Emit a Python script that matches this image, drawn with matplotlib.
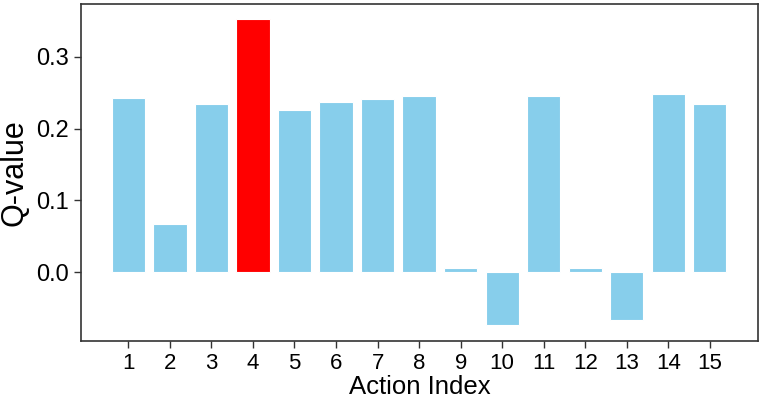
import matplotlib
matplotlib.use("Agg")
import matplotlib.pyplot as plt

actions = list(range(1, 16))
q_values = [0.2425, 0.0674, 0.2345, 0.3525, 0.2265, 0.2368, 0.2410, 0.2458,
            0.0056, -0.0739, 0.2458, 0.0051, -0.0670, 0.2480, 0.2345]
best_action = 4

plt.rcParams['font.family'] = ['Liberation Sans', 'DejaVu Sans']

fig = plt.figure(figsize=(7.62, 4.0), dpi=100)
ax = fig.add_axes([0.1063, 0.1475, 0.8885, 0.8415])

colors = ['red' if a == best_action else 'skyblue' for a in actions]
ax.bar(actions, q_values, width=0.8, color=colors, edgecolor='white', linewidth=0.8)

ax.set_xlim(-0.14, 16.16)
ax.set_ylim(-0.096, 0.373)
ax.set_xticks(actions)
ax.set_xticklabels([str(a) for a in actions], fontsize=16)
ax.set_yticks([0.0, 0.1, 0.2, 0.3])
ax.set_yticklabels(['0.0', '0.1', '0.2', '0.3'], fontsize=17)
ax.set_xlabel('Action Index', fontsize=18.5, labelpad=1)
ax.set_ylabel('Q-value', fontsize=22, labelpad=5)

for s in ax.spines.values():
    s.set_color('#333333')
    s.set_linewidth(1.2)
ax.tick_params(axis='both', direction='out', length=5, width=1, color='#333333')

fig.savefig('out.png', dpi=100)
